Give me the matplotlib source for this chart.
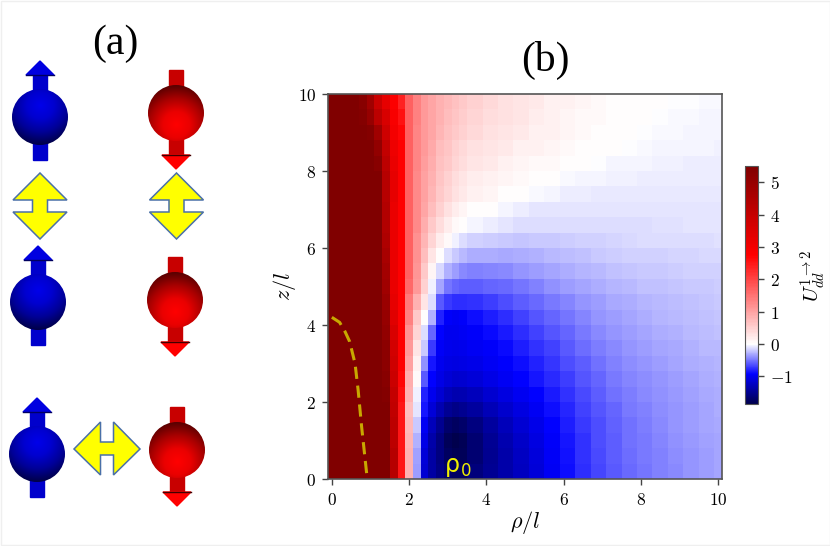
import numpy as np
import matplotlib
matplotlib.use('Agg')
import matplotlib.pyplot as plt
from matplotlib.colors import TwoSlopeNorm, LinearSegmentedColormap
from matplotlib.patches import Circle, Polygon, Rectangle

plt.rcParams['mathtext.fontset'] = 'cm'

# cell edges, finer where the field changes quickly
rho_edges = [-.1, .1, .3, .5, .7, .9, 1.1, 1.3, 1.5, 1.7, 1.9, 2.1, 2.3, 2.5, 2.7, 2.9, 3.1, 3.3, 3.5,
             3.9, 4.3, 4.7, 5.1, 5.5, 5.9, 6.3, 6.7, 7.1, 7.5, 7.9, 8.3, 8.7, 9.1, 9.5, 9.9, 10.1]
z_edges = [0, .4, .8, 1.2, 1.6, 2.0, 2.4, 2.8, 3.2, 3.6, 4.0, 4.4, 4.8, 5.2, 5.6, 6.0, 6.4, 6.8,
           7.2, 7.6, 8.0, 8.4, 8.8, 9.2, 9.6, 10.0]

# U_dd values, one row per z band, bottom row first
U_rows = [
    [5.6, 5.6, 5.6, 5.6, 5.6, 5.6, 5.6, 5.5, 4.3, 2.5, .85, -.36, -1.15, -1.4, -1.55, -1.68, -1.72, -1.72, -1.6, -1.48, -1.36, -1.25, -1.12, -.97, -.87, -.76, -.67, -.6, -.54, -.5, -.46, -.42, -.38, -.35, -.32],
    [5.6, 5.6, 5.6, 5.6, 5.6, 5.6, 5.6, 5.5, 4.3, 2.5, .85, -.34, -1.12, -1.4, -1.58, -1.74, -1.8, -1.78, -1.66, -1.5, -1.36, -1.24, -1.1, -.96, -.86, -.75, -.66, -.59, -.53, -.49, -.45, -.41, -.38, -.35, -.32],
    [5.6, 5.6, 5.6, 5.6, 5.6, 5.6, 5.6, 5.5, 4.2, 2.5, .8, -.28, -1.05, -1.36, -1.58, -1.78, -1.84, -1.8, -1.66, -1.48, -1.33, -1.2, -1.07, -.94, -.84, -.74, -.65, -.58, -.52, -.48, -.44, -.4, -.37, -.34, -.32],
    [5.6, 5.6, 5.6, 5.6, 5.6, 5.6, 5.6, 5.5, 4.2, 2.5, .75, -.2, -.98, -1.28, -1.5, -1.68, -1.74, -1.7, -1.58, -1.42, -1.28, -1.15, -1.03, -.92, -.82, -.72, -.64, -.57, -.51, -.47, -.43, -.39, -.36, -.33, -.31],
    [5.6, 5.6, 5.6, 5.6, 5.6, 5.6, 5.6, 5.5, 4.1, 2.5, .7, -.1, -.85, -1.12, -1.32, -1.48, -1.54, -1.5, -1.42, -1.3, -1.18, -1.08, -.98, -.88, -.79, -.69, -.62, -.55, -.49, -.45, -.41, -.38, -.35, -.32, -.3],
    [5.6, 5.6, 5.6, 5.6, 5.6, 5.6, 5.6, 5.4, 4.0, 2.6, .85, -.05, -.8, -1.0, -1.15, -1.28, -1.34, -1.32, -1.26, -1.17, -1.07, -.99, -.92, -.83, -.75, -.66, -.59, -.52, -.47, -.43, -.4, -.37, -.34, -.31, -.29],
    [5.6, 5.6, 5.6, 5.6, 5.6, 5.6, 5.6, 5.3, 3.9, 2.7, .9, .05, -.6, -.92, -1.05, -1.14, -1.18, -1.16, -1.12, -1.05, -.98, -.92, -.85, -.78, -.7, -.62, -.55, -.49, -.44, -.41, -.38, -.35, -.32, -.3, -.28],
    [5.6, 5.6, 5.6, 5.6, 5.6, 5.6, 5.6, 5.2, 3.8, 2.75, 1.0, .15, -.4, -.85, -1.0, -1.06, -1.08, -1.06, -1.03, -.98, -.93, -.87, -.8, -.73, -.65, -.58, -.51, -.45, -.41, -.38, -.35, -.33, -.3, -.28, -.27],
    [5.6, 5.6, 5.6, 5.6, 5.6, 5.6, 5.6, 5.2, 3.7, 2.75, 1.1, .3, -.2, -.72, -.96, -1.02, -1.04, -1.02, -.98, -.94, -.89, -.82, -.75, -.68, -.6, -.53, -.47, -.42, -.38, -.35, -.33, -.31, -.28, -.26, -.25],
    [5.6, 5.6, 5.6, 5.6, 5.6, 5.6, 5.6, 5.1, 3.6, 2.75, 1.2, .45, -.12, -.55, -.92, -1.0, -1.0, -.98, -.94, -.89, -.83, -.76, -.69, -.62, -.55, -.48, -.43, -.38, -.35, -.32, -.3, -.28, -.26, -.24, -.23],
    [5.6, 5.6, 5.6, 5.6, 5.6, 5.6, 5.6, 5.0, 3.4, 2.75, 1.35, .6, 0, -.28, -.8, -.95, -.97, -.94, -.88, -.82, -.76, -.69, -.62, -.56, -.5, -.44, -.39, -.35, -.32, -.29, -.27, -.25, -.24, -.22, -.21],
    [5.6, 5.6, 5.6, 5.6, 5.6, 5.6, 5.6, 4.9, 3.3, 2.75, 1.45, .85, .3, -.12, -.6, -.72, -.76, -.76, -.74, -.7, -.65, -.59, -.54, -.49, -.44, -.39, -.35, -.31, -.29, -.27, -.25, -.24, -.22, -.21, -.2],
    [5.6, 5.6, 5.6, 5.6, 5.6, 5.6, 5.6, 4.8, 3.2, 2.75, 1.6, 1.1, .5, -.05, -.32, -.5, -.56, -.58, -.58, -.56, -.54, -.5, -.45, -.4, -.36, -.32, -.29, -.27, -.25, -.23, -.22, -.21, -.2, -.19, -.18],
    [5.6, 5.6, 5.6, 5.6, 5.6, 5.6, 5.6, 4.7, 3.2, 2.75, 1.7, 1.15, .6, .1, -.14, -.28, -.36, -.42, -.45, -.44, -.42, -.39, -.36, -.33, -.3, -.27, -.25, -.23, -.21, -.2, -.19, -.18, -.17, -.17, -.16],
    [5.6, 5.6, 5.6, 5.6, 5.6, 5.6, 5.6, 4.6, 3.2, 2.75, 1.7, 1.2, .7, .3, .03, -.12, -.2, -.25, -.29, -.3, -.31, -.3, -.28, -.26, -.24, -.22, -.2, -.18, -.17, -.16, -.16, -.15, -.15, -.14, -.14],
    [5.6, 5.6, 5.6, 5.6, 5.6, 5.6, 5.6, 4.5, 3.2, 2.75, 1.7, 1.2, .8, .45, .18, .05, -.05, -.12, -.16, -.18, -.2, -.21, -.2, -.19, -.18, -.17, -.16, -.15, -.14, -.13, -.13, -.12, -.12, -.12, -.11],
    [5.6, 5.6, 5.6, 5.6, 5.6, 5.6, 5.6, 4.4, 3.2, 2.75, 1.7, 1.25, .9, .6, .35, .2, .08, .03, -.03, -.07, -.1, -.12, -.13, -.13, -.13, -.12, -.12, -.12, -.12, -.12, -.11, -.11, -.1, -.1, -.1],
    [5.6, 5.6, 5.6, 5.6, 5.6, 5.6, 5.6, 4.4, 3.2, 2.75, 1.7, 1.25, .95, .7, .48, .32, .2, .12, .03, 0, -.04, -.07, -.09, -.1, -.1, -.1, -.1, -.1, -.1, -.1, -.09, -.09, -.09, -.09, -.09],
    [5.6, 5.6, 5.6, 5.6, 5.6, 5.6, 5.6, 4.3, 3.3, 2.75, 1.7, 1.25, 1.0, .78, .58, .44, .32, .24, .16, .09, .04, 0, -.02, -.04, -.06, -.07, -.08, -.08, -.08, -.08, -.08, -.08, -.08, -.08, -.08],
    [5.6, 5.6, 5.6, 5.6, 5.6, 5.6, 5.5, 4.3, 3.3, 2.75, 1.7, 1.25, 1.0, .85, .62, .5, .36, .26, .2, .14, .1, .05, .02, 0, -.02, -.03, -.04, -.05, -.05, -.06, -.06, -.07, -.07, -.07, -.07],
    [5.6, 5.6, 5.6, 5.6, 5.6, 5.6, 5.3, 4.2, 3.2, 2.75, 1.7, 1.3, 1.05, .88, .68, .56, .44, .36, .28, .22, .17, .12, .08, .05, .02, 0, -.01, -.03, -.04, -.04, -.05, -.05, -.06, -.06, -.06],
    [5.6, 5.6, 5.6, 5.6, 5.6, 5.5, 5.1, 4.0, 3.1, 2.75, 1.7, 1.3, 1.1, .92, .72, .62, .5, .42, .34, .28, .23, .17, .13, .09, .06, .03, .02, 0, -.01, -.02, -.03, -.03, -.04, -.04, -.05],
    [5.6, 5.6, 5.6, 5.6, 5.6, 5.4, 4.8, 3.8, 3.0, 2.7, 1.7, 1.3, 1.1, .95, .78, .68, .56, .48, .4, .34, .27, .22, .17, .13, .1, .06, .04, .02, 0, -.01, -.02, -.02, -.03, -.03, -.04],
    [5.6, 5.6, 5.6, 5.6, 5.4, 5.0, 4.2, 3.6, 2.9, 2.55, 1.7, 1.35, 1.1, .98, .82, .72, .62, .54, .44, .38, .31, .26, .2, .16, .12, .08, .05, .03, .02, 0, -.01, -.02, -.02, -.03, -.03],
    [5.6, 5.6, 5.6, 5.6, 5.3, 4.8, 3.9, 3.3, 2.8, 2.4, 1.7, 1.35, 1.1, .98, .85, .75, .66, .58, .48, .42, .34, .28, .22, .17, .13, .09, .06, .04, .03, .01, 0, -.01, -.01, -.02, -.02],
]

# dashed rho_0 curve in panel (b)
curve_rho = [0.0, .2, .34, .46, .6, .68, .77, .9]
curve_z = [4.2, 4.07, 3.83, 3.57, 3.0, 2.31, 1.36, .15]

x_ticks = [0, 2, 4, 6, 8, 10]
y_ticks = [0, 2, 4, 6, 8, 10]
cbar_ticks = [-1, 0, 1, 2, 3, 4, 5]

# schematic of panel (a), in pixels of the figure
blue_atoms = [(40, 117), (38, 302), (37, 454)]
red_atoms = [(176, 113), (175, 300), (177, 450)]
vertical_swaps = [(40, 206), (176.5, 206)]
horizontal_swap = (107, 449)

W, H = 830, 546
fig = plt.figure(figsize=(W / 100, H / 100), dpi=100)

# background axes in pixel coords for the schematic
bg = fig.add_axes([0, 0, 1, 1])
bg.set_xlim(0, W)
bg.set_ylim(H, 0)
bg.axis('off')
bg.add_patch(Rectangle((0.5, 0.5), W - 1, H - 2, fill=False, edgecolor='#efefef', lw=1))

blue_map = LinearSegmentedColormap.from_list('b', ['#0000ea', '#0000d0', '#000098', '#000048'])
red_map = LinearSegmentedColormap.from_list('r', ['#ff0000', '#ea0000', '#a80000', '#580000'])


def draw_atom(cx, cy, sign, cmap):
    # sign=1 arrow up, sign=-1 arrow down, pixel y grows downwards
    r = 28
    tail = cy + sign * 43
    head_base = cy - sign * 42
    tip = cy - sign * 56
    stem_col = '#0000cc' if sign == 1 else '#c80000'
    head_col = '#0000e0' if sign == 1 else '#ff0000'
    bg.add_patch(Rectangle((cx - 7, min(tail, head_base)), 14, 85, color=stem_col, zorder=2))
    bg.add_patch(Polygon([(cx - 14, head_base), (cx + 14, head_base), (cx, tip)], color=head_col, zorder=2))
    bg.plot([cx - 14, cx + 14], [head_base, head_base], color='#400000' if sign == -1 else '#000060', lw=1, zorder=2)
    # shaded ball
    yy, xx = np.mgrid[-1:1:120j, -1:1:120j]
    shade = np.sqrt(xx ** 2 + (yy + sign * 0.42) ** 2) / 1.42
    im = bg.imshow(shade, extent=(cx - r, cx + r, cy + r, cy - r), cmap=cmap, vmin=0, vmax=1, zorder=3, aspect='auto')
    im.set_clip_path(Circle((cx, cy), r, transform=bg.transData))


for cx, cy in blue_atoms:
    draw_atom(cx, cy, 1, blue_map)
for cx, cy in red_atoms:
    draw_atom(cx, cy, -1, red_map)

for cx, cy in vertical_swaps:
    bg.add_patch(Polygon([(cx, cy - 33), (cx + 27, cy - 6), (cx + 7.5, cy - 6), (cx + 7.5, cy + 6), (cx + 27, cy + 6),
                          (cx, cy + 33), (cx - 27, cy + 6), (cx - 7.5, cy + 6), (cx - 7.5, cy - 6), (cx - 27, cy - 6)],
                         facecolor='#ffff00', edgecolor='#4a70a8', lw=1.1, zorder=2))
cx, cy = horizontal_swap
bg.add_patch(Polygon([(cx - 33, cy), (cx - 6.5, cy - 27), (cx - 6.5, cy - 7), (cx + 6.5, cy - 7), (cx + 6.5, cy - 27),
                      (cx + 33, cy), (cx + 6.5, cy + 26), (cx + 6.5, cy + 6), (cx - 6.5, cy + 6), (cx - 6.5, cy + 26)],
                     facecolor='#ffff00', edgecolor='#4a70a8', lw=1.1, zorder=2))
bg.set_xlim(0, W)
bg.set_ylim(H, 0)

fig.text(115 / W, 1 - 44 / H, '(a)', family='Liberation Serif', fontsize=30, ha='center', va='center')
fig.text(545 / W, 1 - 60 / H, '(b)', family='Liberation Serif', fontsize=30, ha='center', va='center')

# heat map
ax = fig.add_axes([328 / W, 1 - 479 / H, 394 / W, 385 / H])
norm = TwoSlopeNorm(vmin=-1.85, vcenter=0, vmax=5.5)
mesh = ax.pcolormesh(rho_edges, z_edges, np.array(U_rows), cmap='seismic', norm=norm, shading='flat')
ax.plot(curve_rho, curve_z, color='#c8a800', lw=2.2, ls=(0, (4, 2.2)))
ax.text(2.9, 0.0, r'ρ$_{\mathregular{0}}$', color='#f0f000', fontsize=17, family='DejaVu Sans', va='bottom', ha='left')
ax.set_xlim(-.1, 10.1)
ax.set_ylim(0, 10)
ax.set_xticks(x_ticks)
ax.set_yticks(y_ticks)
ax.set_xticklabels(['$%d$' % t for t in x_ticks], fontsize=12.5)
ax.set_yticklabels(['$%d$' % t for t in y_ticks], fontsize=12.5)
ax.tick_params(length=4.5, width=1, color='#444444', pad=4)
ax.set_xlabel(r'$\rho/l$', fontsize=16, labelpad=0, x=0.5)
ax.set_ylabel(r'$z/l$', fontsize=16, labelpad=0)
for s in ax.spines.values():
    s.set_color('#555555')
    s.set_linewidth(1.2)

# colour bar, linear scale
cax = fig.add_axes([745 / W, 1 - 404 / H, 13 / W, 238 / H])
cbar = fig.colorbar(mesh, cax=cax)
cbar.ax.set_yscale('linear')
cbar.ax.set_ylim(-1.85, 5.5)
cbar.set_ticks(cbar_ticks)
cbar.set_ticklabels(['$%d$' % t for t in cbar_ticks], fontsize=12.5)
cbar.ax.tick_params(length=4.5, width=1, color='#444444', pad=4)
cbar.outline.set_edgecolor('#555555')
cbar.ax.set_ylabel(r'$U_{dd}^{1\to 2}$', fontsize=15, labelpad=4, y=0.54)

fig.savefig('out.png', dpi=100)
